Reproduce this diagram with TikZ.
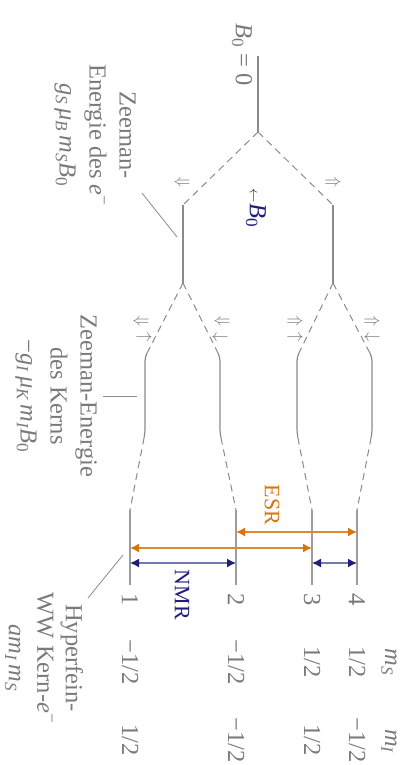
\documentclass[tikz,border=0pt]{standalone}
\usepackage{fontspec}
\setmainfont{Liberation Serif}
\usetikzlibrary{arrows.meta,calc}
\definecolor{tgray}{HTML}{7A7A7A}
\definecolor{lgray}{HTML}{8A8A8A}
\definecolor{navyb}{HTML}{1E1E78}
\definecolor{orng}{HTML}{D9730D}
\newcommand{\vv}[1]{\textit{#1}}
\newcommand{\sbs}[1]{\textsubscript{#1}}
\begin{document}
\begin{tikzpicture}[x=1pt,y=-1pt,
  lvl/.style={draw=lgray,line width=1.2pt},
  flvl/.style={draw=lgray!85,line width=2pt},
  dsh/.style={draw=lgray,line width=1pt,dash pattern=on 7pt off 5pt},
  ann/.style={draw=lgray,line width=0.8pt},
  lbl/.style={text=tgray,font=\fontsize{24.5}{30}\selectfont,rotate=-90,align=center,inner sep=0pt},
  spin/.style={text=tgray,font=\fontsize{18}{18}\selectfont,inner sep=0pt},
  esr/.style={draw=orng!85,line width=1.5pt,{Latex[length=9pt,width=9pt,color=orng]}-{Latex[length=9pt,width=9pt,color=orng]}},
  nmr/.style={draw=navyb!60,line width=1.5pt,{Latex[length=9pt,width=9pt,color=navyb]}-{Latex[length=9pt,width=9pt,color=navyb]}}
]
\useasboundingbox (0,0) rectangle (404,765);
% zero-field level
\coordinate (z0a) at (258,56);
\coordinate (z0b) at (258,132);
\draw[lvl] (z0a) -- (z0b);
% electron Zeeman levels
\coordinate (eDa) at (183,205); \coordinate (eDb) at (183,283);
\coordinate (eUa) at (333,205); \coordinate (eUb) at (333,283);
\draw[dsh] (z0b) -- (eDa);
\draw[dsh] (z0b) -- (eUa);
\draw[lvl] (eDa) -- (eDb);
\draw[lvl] (eUa) -- (eUb);
% nuclear Zeeman levels
\foreach \n/\x/\p/\fx in {1/145/eDb/130, 2/220/eDb/236, 3/297/eUb/312, 4/372/eUb/357}{
  \coordinate (n\n a) at (\x,357);
  \coordinate (n\n b) at (\x,433);
  \coordinate (f\n a) at (\fx,510);
  \coordinate (f\n b) at (\fx,585);
  \draw[dsh] (\p) -- ($(\p)!0.95!(n\n a)$);
  \draw[lvl,rounded corners=4pt] ($(\p)!0.95!(n\n a)$) -- (n\n a) -- (n\n b) -- ($(n\n b)!0.06!(f\n a)$);
  \draw[dsh] ($(n\n b)!0.06!(f\n a)$) -- (f\n a);
  \draw[flvl] (f\n a) -- (f\n b);
}
% transitions
\draw[esr] ($(f2a)+(0,22)$) -- ($(f4a)+(0,22)$);
\draw[esr] ($(f1a)+(0,38)$) -- ($(f3a)+(0,38)$);
\draw[nmr] ($(f1a)+(0,53)$) -- ($(f2a)+(0,53)$);
\draw[nmr] ($(f3a)+(0,53)$) -- ($(f4a)+(0,53)$);
% spin symbols
\node[spin] (sD) at (182,183) {$\Leftarrow$};
\node[spin] (sU) at (333,183) {$\Rightarrow$};
\node[spin] (s1a) at (141,322) {$\Leftarrow$};
\node[spin] (s1b) at (144,338) {$\rightarrow$};
\node[spin] (s2a) at (222,322) {$\Leftarrow$};
\node[spin] (s2b) at (220,338) {$\leftarrow$};
\node[spin] (s3a) at (295,322) {$\Rightarrow$};
\node[spin] (s3b) at (295,338) {$\rightarrow$};
\node[spin] (s4a) at (372,322) {$\Rightarrow$};
\node[spin] (s4b) at (372,338) {$\leftarrow$};
% labels
\node[lbl] (lB0) at (242,55) {\vv{B}\sbs{0} = 0};
\node[lbl,text=navyb] (lfield) at (256,208) {{\fontsize{15}{15}\selectfont$\leftarrow$}\vv{B}\sbs{0}};
\node[lbl] (lZe) at (95,135) {Zeeman-\\Energie des \vv{e}\textsuperscript{−}\\\vv{g\sbs{S}\,μ\sbs{B}\,m\sbs{S}B}\sbs{0}};
\node[lbl] (lZk) at (56,396) {Zeeman-Energie\\des Kerns\\−\vv{g\sbs{I}\,μ\sbs{K}\,m\sbs{I}B}\sbs{0}};
\node[lbl,font=\fontsize{24.5}{28.5}\selectfont] (lHf) at (44,658) {Hyperfein-\\WW Kern-\vv{e}\textsuperscript{−}\\\vv{am\sbs{I}\,m\sbs{S}}};
\node[lbl,text=orng,font=\fontsize{22}{24}\selectfont] (lESR) at (272,505) {ESR};
\node[lbl,text=navyb,font=\fontsize{22}{24}\selectfont] (lNMR) at (182,595) {NMR};
% annotation lines
\coordinate (aZe1) at (142,193); \coordinate (aZe2) at (177,237);
\draw[ann] (aZe1) -- (aZe2);
\coordinate (aZk1) at (103,396); \coordinate (aZk2) at (137,396);
\draw[ann] (aZk1) -- (aZk2);
\coordinate (aHf1) at (123,555); \coordinate (aHf2) at (88,598);
\draw[ann] (aHf1) -- (aHf2);
% table
\node[lbl] (hS) at (389,662) {\vv{m\sbs{S}}};
\node[lbl] (hI) at (389,741) {\vv{m\sbs{I}}};
\foreach \n/\x/\ms/\mi in {1/130/−1\slash 2/1\slash 2, 2/236/−1\slash 2/−1\slash 2, 3/312/1\slash 2/1\slash 2, 4/357/1\slash 2/−1\slash 2}{
  \node[lbl] (num\n) at (\x,600) {\n};
  \node[lbl] (ms\n) at (\x,662) {\ms};
  \node[lbl] (mi\n) at (\x,740) {\mi};
}
\end{tikzpicture}
\end{document}
